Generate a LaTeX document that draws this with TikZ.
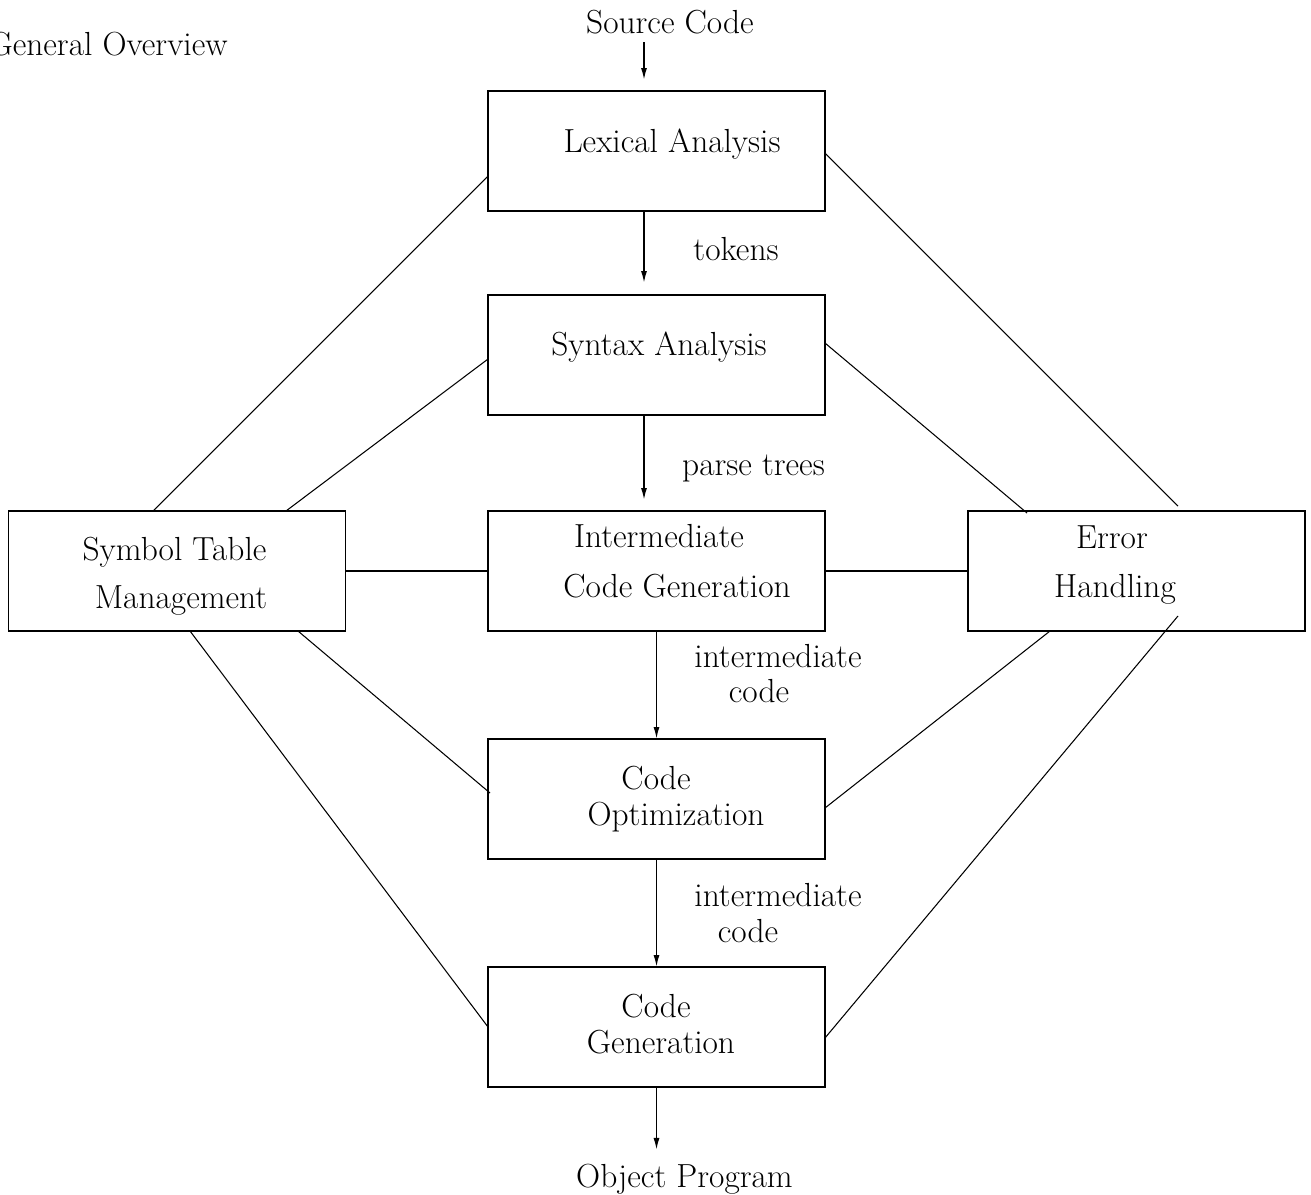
\documentclass[tikz,border=0pt]{standalone}
\usepackage{tikz}
\usetikzlibrary{arrows.meta, positioning}

\begin{document}
\begin{tikzpicture}[
    x=0.02cm, y=-0.02cm,
    blk/.style={rectangle, draw=black, line width=1.1pt, minimum width=6.74cm, minimum height=2.4cm, inner sep=0pt, outer sep=0pt},
    txt/.style={anchor=base, inner sep=0pt, font=\fontsize{19}{23}\selectfont},
    arrow/.style={line width=0.9pt, -{Latex[length=2.4mm, width=1.2mm]}},
    link/.style={line width=0.6pt},
    bar/.style={line width=1.6pt}
]
\useasboundingbox (0,0) rectangle (1311,1194);

\node[blk] (lex) at (656.5,151) {};
\node[blk] (syn) at (656.5,355) {};
\node[blk] (icg) at (656.5,571) {};
\node[blk] (opt) at (656.5,799) {};
\node[blk] (gen) at (656.5,1027) {};
\node[blk] (sym) at (177,571) {};
\node[blk] (err) at (1136.5,571) {};

\node[txt, anchor=base east] (title) at (228,55) {General Overview};
\node[txt] (src) at (670,33) {Source Code};
\node[txt] (obj) at (684.5,1187) {Object Program};

\node[txt] (lexT) at (672,152) {Lexical Analysis};
\node[txt] (synT) at (659,355) {Syntax Analysis};
\node[txt] (icgT1) at (659,547) {Intermediate};
\node[txt] (icgT2) at (677,597) {Code Generation};
\node[txt] (optT1) at (656,789) {Code};
\node[txt] (optT2) at (676,825) {Optimization};
\node[txt] (genT1) at (656,1017) {Code};
\node[txt] (genT2) at (661,1053) {Generation};
\node[txt] (symT1) at (174.5,560) {Symbol Table};
\node[txt] (symT2) at (181,608) {Management};
\node[txt] (errT1) at (1112,548) {Error};
\node[txt] (errT2) at (1115,597) {Handling};

\node[txt] (tok) at (736,260) {tokens};
\node[txt] (parse) at (753.5,475) {parse trees};
\node[txt] (ic1a) at (778,667) {intermediate};
\node[txt] (ic1b) at (759,702) {code};
\node[txt] (ic2a) at (778,906) {intermediate};
\node[txt] (ic2b) at (748,942) {code};

\draw[arrow] ([xshift=-0.52cm, yshift=-0.18cm]src.base) -- ([xshift=-0.25cm, yshift=0.22cm]lex.north);
\draw[arrow] ([xshift=-0.25cm]lex.south) -- ([xshift=-0.25cm, yshift=0.24cm]syn.north);
\draw[arrow] ([xshift=-0.25cm]syn.south) -- ([xshift=-0.25cm, yshift=0.22cm]icg.north);
\draw[arrow] (icg.south) -- (opt.north);
\draw[arrow] (opt.south) -- (gen.north);
\draw[arrow] (gen.south) -- ([yshift=-1.26cm]gen.south);

\draw[bar] (sym.east) -- (icg.west);
\draw[bar] (icg.east) -- (err.west);

\draw[link] ([yshift=-0.5cm]lex.west) -- ([xshift=-0.48cm]sym.north);
\draw[link] ([yshift=-0.08cm]syn.west) -- ([xshift=2.18cm]sym.north);
\draw[link] ([yshift=-0.04cm]lex.east) -- ([xshift=0.83cm, yshift=0.1cm]err.north);
\draw[link] ([yshift=0.24cm]syn.east) -- ([xshift=-2.19cm, yshift=-0.04cm]err.north);
\draw[link] ([xshift=0.26cm]sym.south) -- (gen.west);
\draw[link] ([xshift=2.42cm]sym.south) -- ([xshift=0.04cm, yshift=0.12cm]opt.west);
\draw[link] ([xshift=-1.73cm]err.south) -- ([yshift=-0.18cm]opt.east);
\draw[link] ([xshift=0.83cm, yshift=0.3cm]err.south) -- ([yshift=-0.22cm]gen.east);

\end{tikzpicture}
\end{document}
